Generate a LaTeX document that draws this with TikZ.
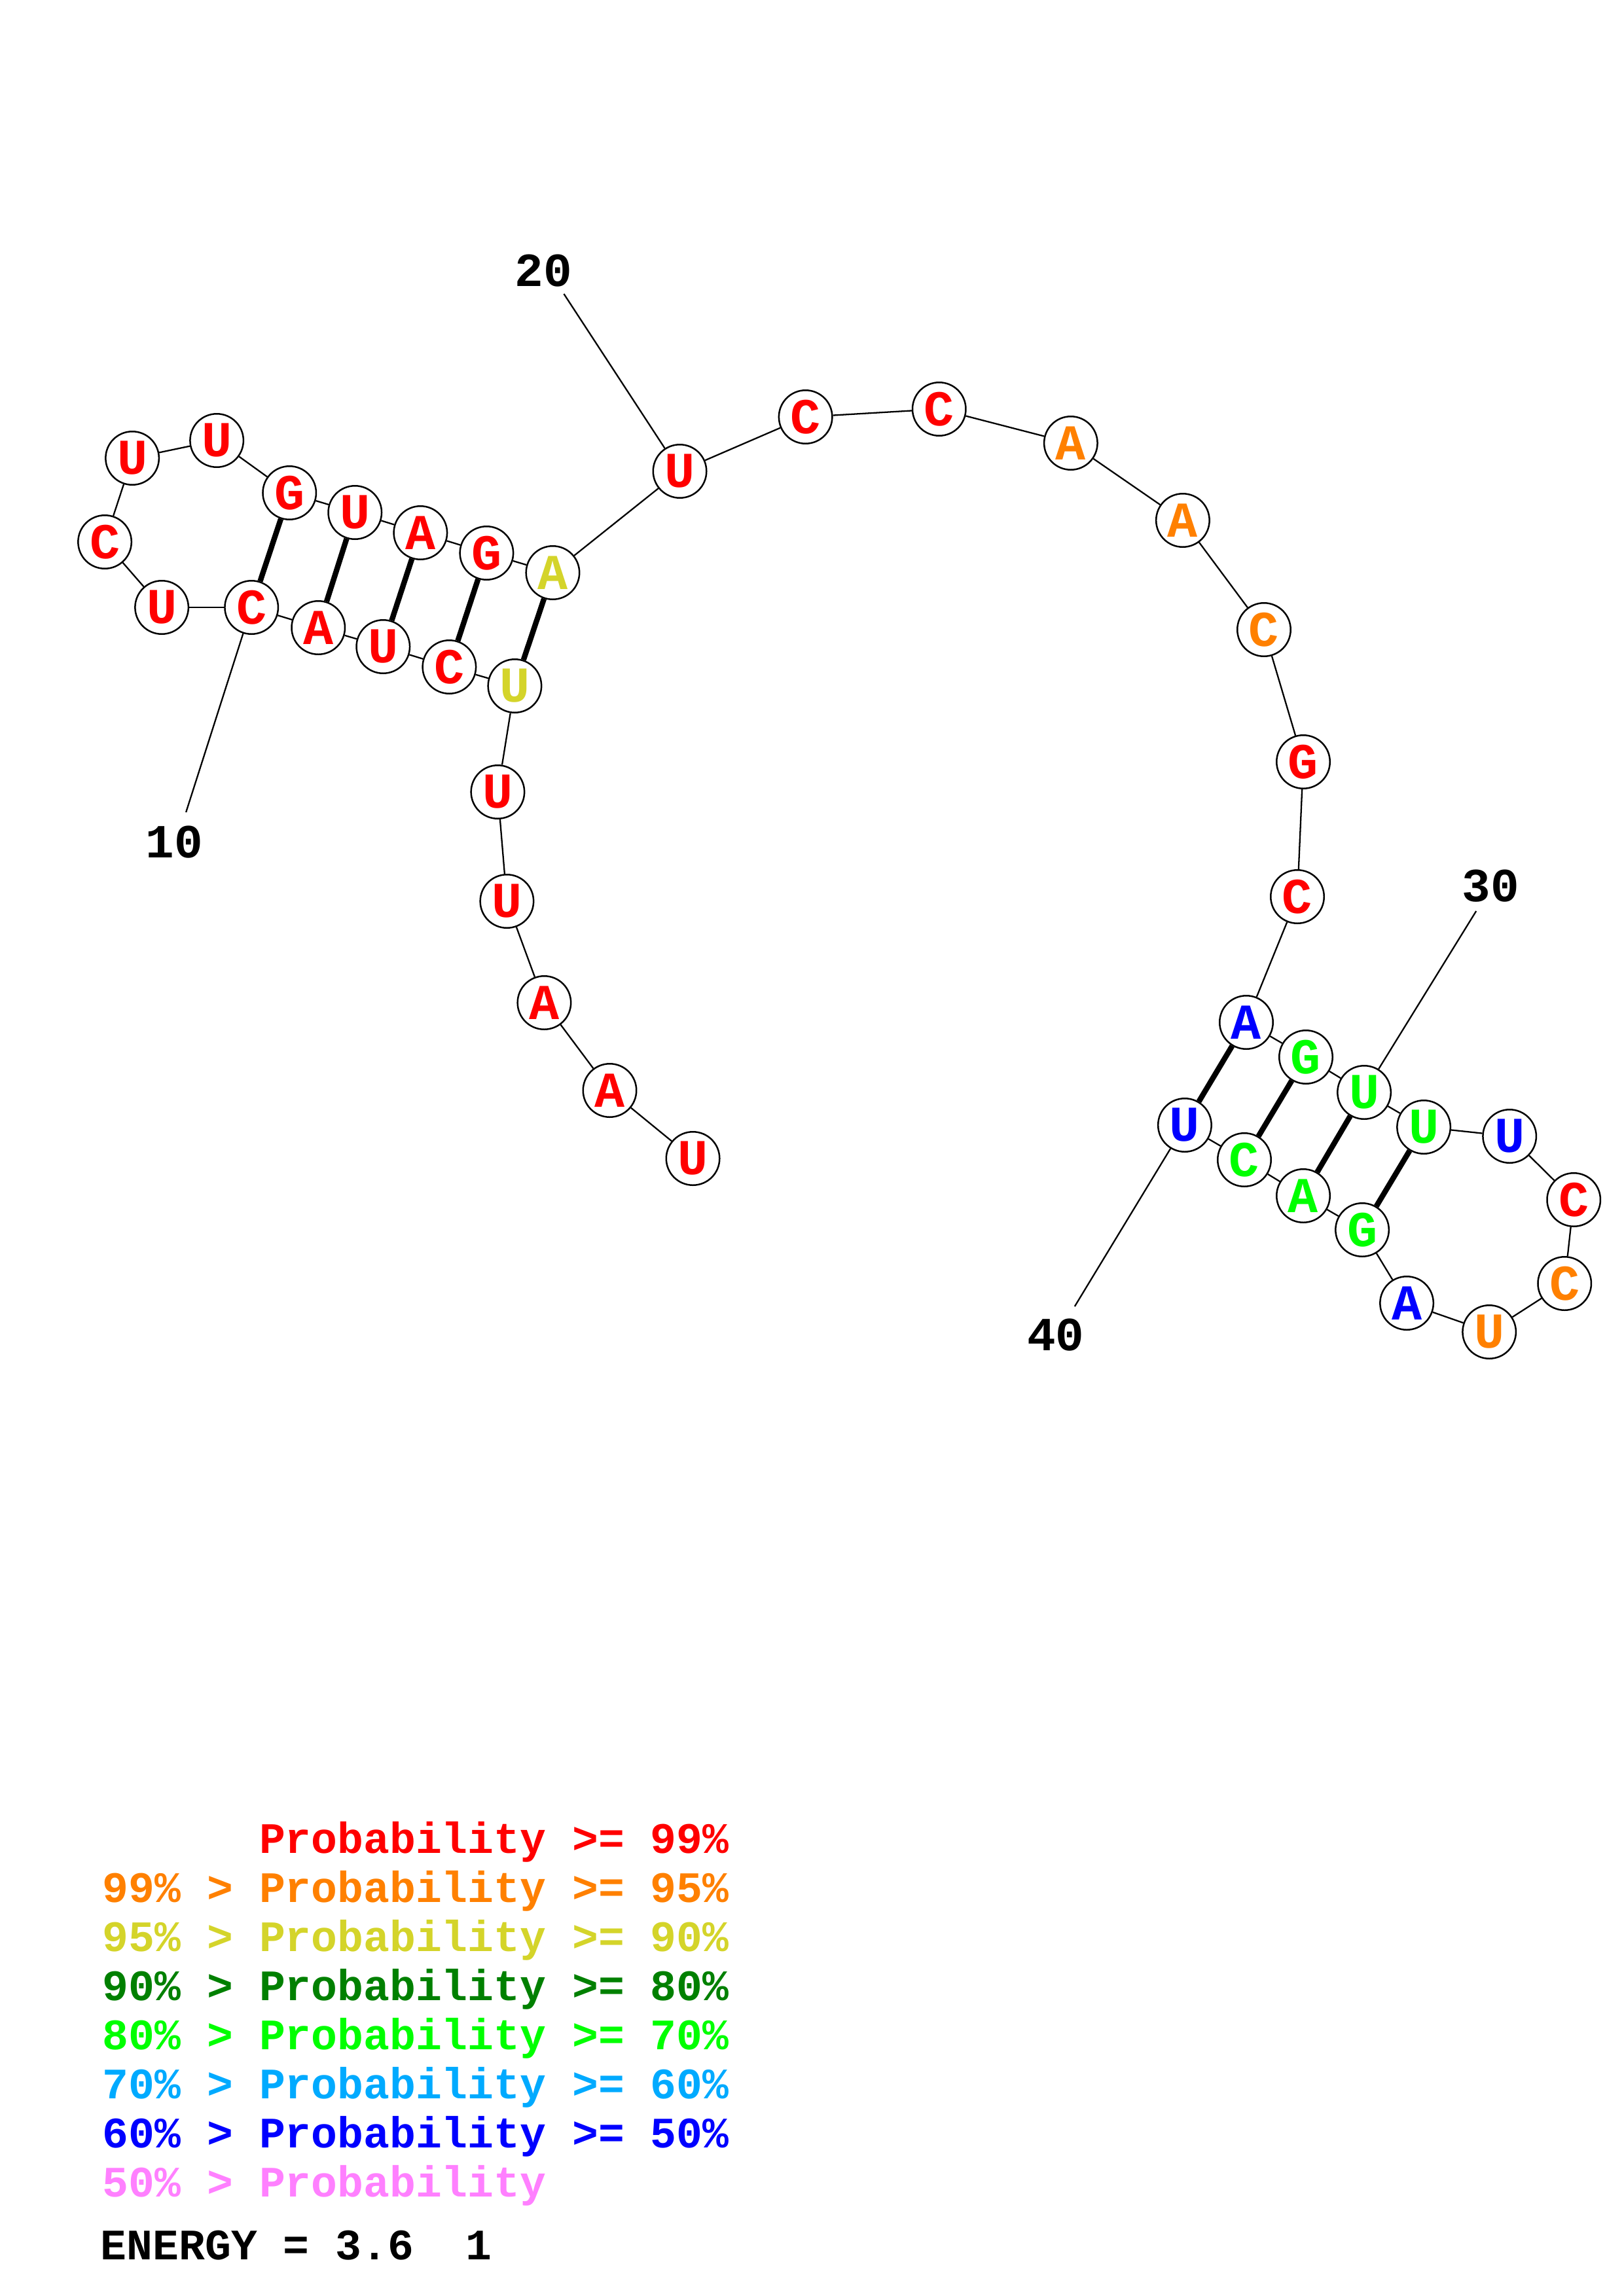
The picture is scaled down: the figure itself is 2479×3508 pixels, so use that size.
\documentclass[tikz,border=0pt]{standalone}
\usepackage{fontspec}
\setmonofont{Liberation Mono}
\definecolor{pr}{RGB}{255,0,0}
\definecolor{po}{RGB}{255,128,0}
\definecolor{py}{RGB}{212,212,42}
\definecolor{pdg}{RGB}{0,128,0}
\definecolor{pg}{RGB}{0,255,0}
\definecolor{plb}{RGB}{0,170,255}
\definecolor{pb}{RGB}{0,0,255}
\definecolor{pp}{RGB}{255,128,255}
\begin{document}
\begin{tikzpicture}[x=0.08471mm, y=-0.08467mm, font=\ttfamily\bfseries,
    base/.style={circle, draw, line width=0.6pt, fill=white, minimum size=6.9mm, inner sep=0pt,
      font=\ttfamily\bfseries\fontsize{18.5}{18.5}\selectfont},
    backbone/.style={line width=0.55pt},
    pair/.style={line width=2pt},
    tick/.style={line width=0.55pt},
    numlabel/.style={inner sep=0pt, font=\ttfamily\bfseries\fontsize{17.5}{17.5}\selectfont},
    legend/.style={anchor=base west, inner sep=0pt, font=\ttfamily\bfseries\fontsize{16}{16}\selectfont}]
    \useasboundingbox (0,0) rectangle (2479,3508);
    % bases
    \foreach \i/\b/\x/\y/\c in {1/U/1058/1770/pr, 2/A/931/1666/pr, 3/A/831/1532/pr, 4/U/774/1377/pr,
      5/U/760/1210/pr, 6/U/786/1048/py, 7/C/686/1019/pr, 8/U/585/988/pr, 9/A/486/959/pr,
      10/C/384/928/pr, 11/U/247/928/pr, 12/C/160/828/pr, 13/U/202/700/pr, 14/U/331/673/pr,
      15/G/442/753/pr, 16/U/542/783/pr, 17/A/642/814/pr, 18/G/743/845/pr, 19/A/844/875/py,
      20/U/1038/720/pr, 21/C/1230/637/pr, 22/C/1434/625/pr, 23/A/1635/677/po, 24/A/1806/795/po,
      25/C/1930/962/po, 26/G/1990/1164/pr, 27/C/1981/1370/pr, 28/A/1903/1562/pb, 29/G/1994/1615/pg,
      30/U/2083/1669/pg, 31/U/2174/1722/pg, 32/U/2305/1736/pb, 33/C/2403/1833/pr, 34/C/2389/1961/po,
      35/U/2274/2035/po, 36/A/2148/1991/pb, 37/G/2080/1879/pg, 38/A/1990/1827/pg, 39/C/1900/1772/pg,
      40/U/1809/1719/pb} {
      \node[base, text=\c] (n\i) at (\x,\y) {\b};
    }
    % backbone
    \foreach \i [count=\j from 2] in {1,...,39} {
      \draw[backbone] (n\i) -- (n\j);
    }
    % pairs
    \foreach \a/\b in {10/15, 9/16, 8/17, 7/18, 6/19, 40/28, 39/29, 38/30, 37/31} {
      \draw[pair] (n\a) -- (n\b);
    }
    % numbering
    \foreach \i/\x/\y/\lx/\ly in {10/284/1241/266/1287, 20/861/449/830/414,
      30/2254/1392/2276/1354, 40/1641/1996/1612/2040} {
      \coordinate (e\i) at (\x,\y);
      \draw[tick] (n\i) -- (e\i);
      \node[numlabel] (t\i) at (\lx,\ly) {\i};
    }
    % legend
    \foreach \c/\t [count=\k from 0] in {pr/{\hphantom{99\% > }Probability >= 99\%},
      po/{99\% > Probability >= 95\%}, py/{95\% > Probability >= 90\%},
      pdg/{90\% > Probability >= 80\%}, pg/{80\% > Probability >= 70\%},
      plb/{70\% > Probability >= 60\%}, pb/{60\% > Probability >= 50\%},
      pp/{50\% > Probability}} {
      \node[legend, text=\c] (leg\k) at (156, 2831+75*\k) {\t};
    }
    \node[legend] (energy) at (153,3452) {ENERGY = 3.6\ \ 1};
  \end{tikzpicture}
\end{document}
